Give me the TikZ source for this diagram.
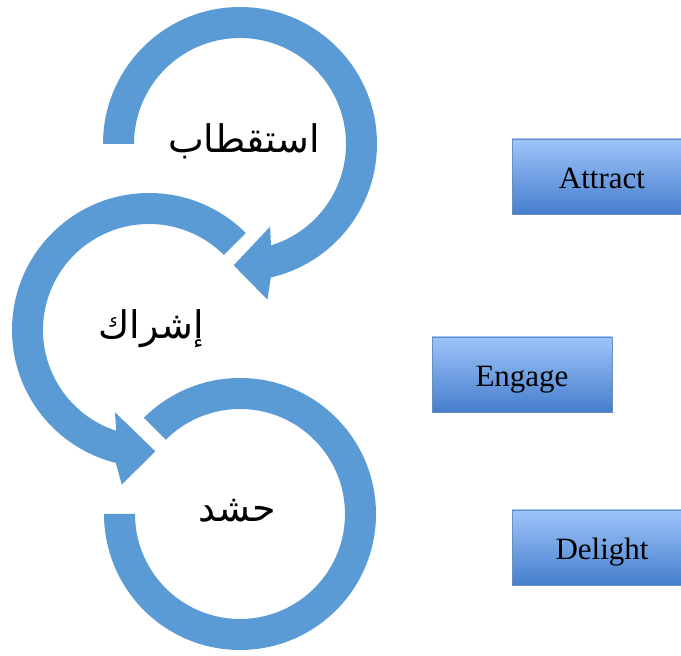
\documentclass[tikz,border=0pt]{standalone}
\usepackage{fontspec}
\setmainfont{Liberation Serif}
\newfontfamily\arabicfont[Script=Arabic]{DejaVu Sans}
\TeXXeTstate=1
\usetikzlibrary{calc}

\definecolor{ringblue}{RGB}{91,155,213}
\definecolor{boxtop}{RGB}{157,196,250}
\definecolor{boxbottom}{RGB}{70,126,204}
\definecolor{boxedge}{RGB}{105,143,192}

\begin{document}
\begin{tikzpicture}[
    x=1pt, y=1pt,
    ring/.style={fill=ringblue},
    stage/.style={draw=boxedge, line width=0.8pt, top color=boxtop, bottom color=boxbottom,
        minimum width=180pt, minimum height=75pt, inner sep=0pt, text height=25pt, text depth=0pt,
        font=\fontsize{31}{37}\selectfont},
    word/.style={font=\arabicfont\fontsize{38}{46}\selectfont}
]
\useasboundingbox (0,0) rectangle (681,656);
\clip (0,0) rectangle (681,656);

\coordinate (ctop) at (240,512);
\coordinate (cmid) at (149,326);
\coordinate (cbot) at (240,142);

\fill[ring] ($(ctop)+(180:137)$) arc[start angle=180, end angle=-77, radius=137]
    -- ($(ctop)+(-80:158)$) -- ($(ctop)+(-93:121.5)$) -- ($(ctop)+(-70:88)$)
    -- ($(ctop)+(-73:106)$) arc[start angle=-73, end angle=180, radius=106] -- cycle;

\fill[ring] ($(cmid)+(45:137)$) arc[start angle=45, end angle=256, radius=137]
    -- ($(cmid)+(260:157)$) -- ($(cmid)+(273:121.5)$) -- ($(cmid)+(247.5:89)$)
    -- ($(cmid)+(252:106)$) arc[start angle=252, end angle=45, radius=106] -- cycle;

\fill[ring] ($(cbot)+(135:136)$) arc[start angle=135, end angle=-180, radius=136]
    -- ($(cbot)+(180:105)$) arc[start angle=-180, end angle=135, radius=105] -- cycle;

\node[word] (attractar) at (244,515) {\beginR استقطاب\endR};
\node[word] (engagear) at (151,327) {\beginR إشراك\endR};
\node[word] (delightar) at (237,145) {\beginR حشد\endR};

\node[stage] (attract) at (602,479.5) {Attract};
\node[stage] (engage) at (522,281.5) {Engage};
\node[stage] (delight) at (602,108.5) {Delight};
\end{tikzpicture}
\end{document}
